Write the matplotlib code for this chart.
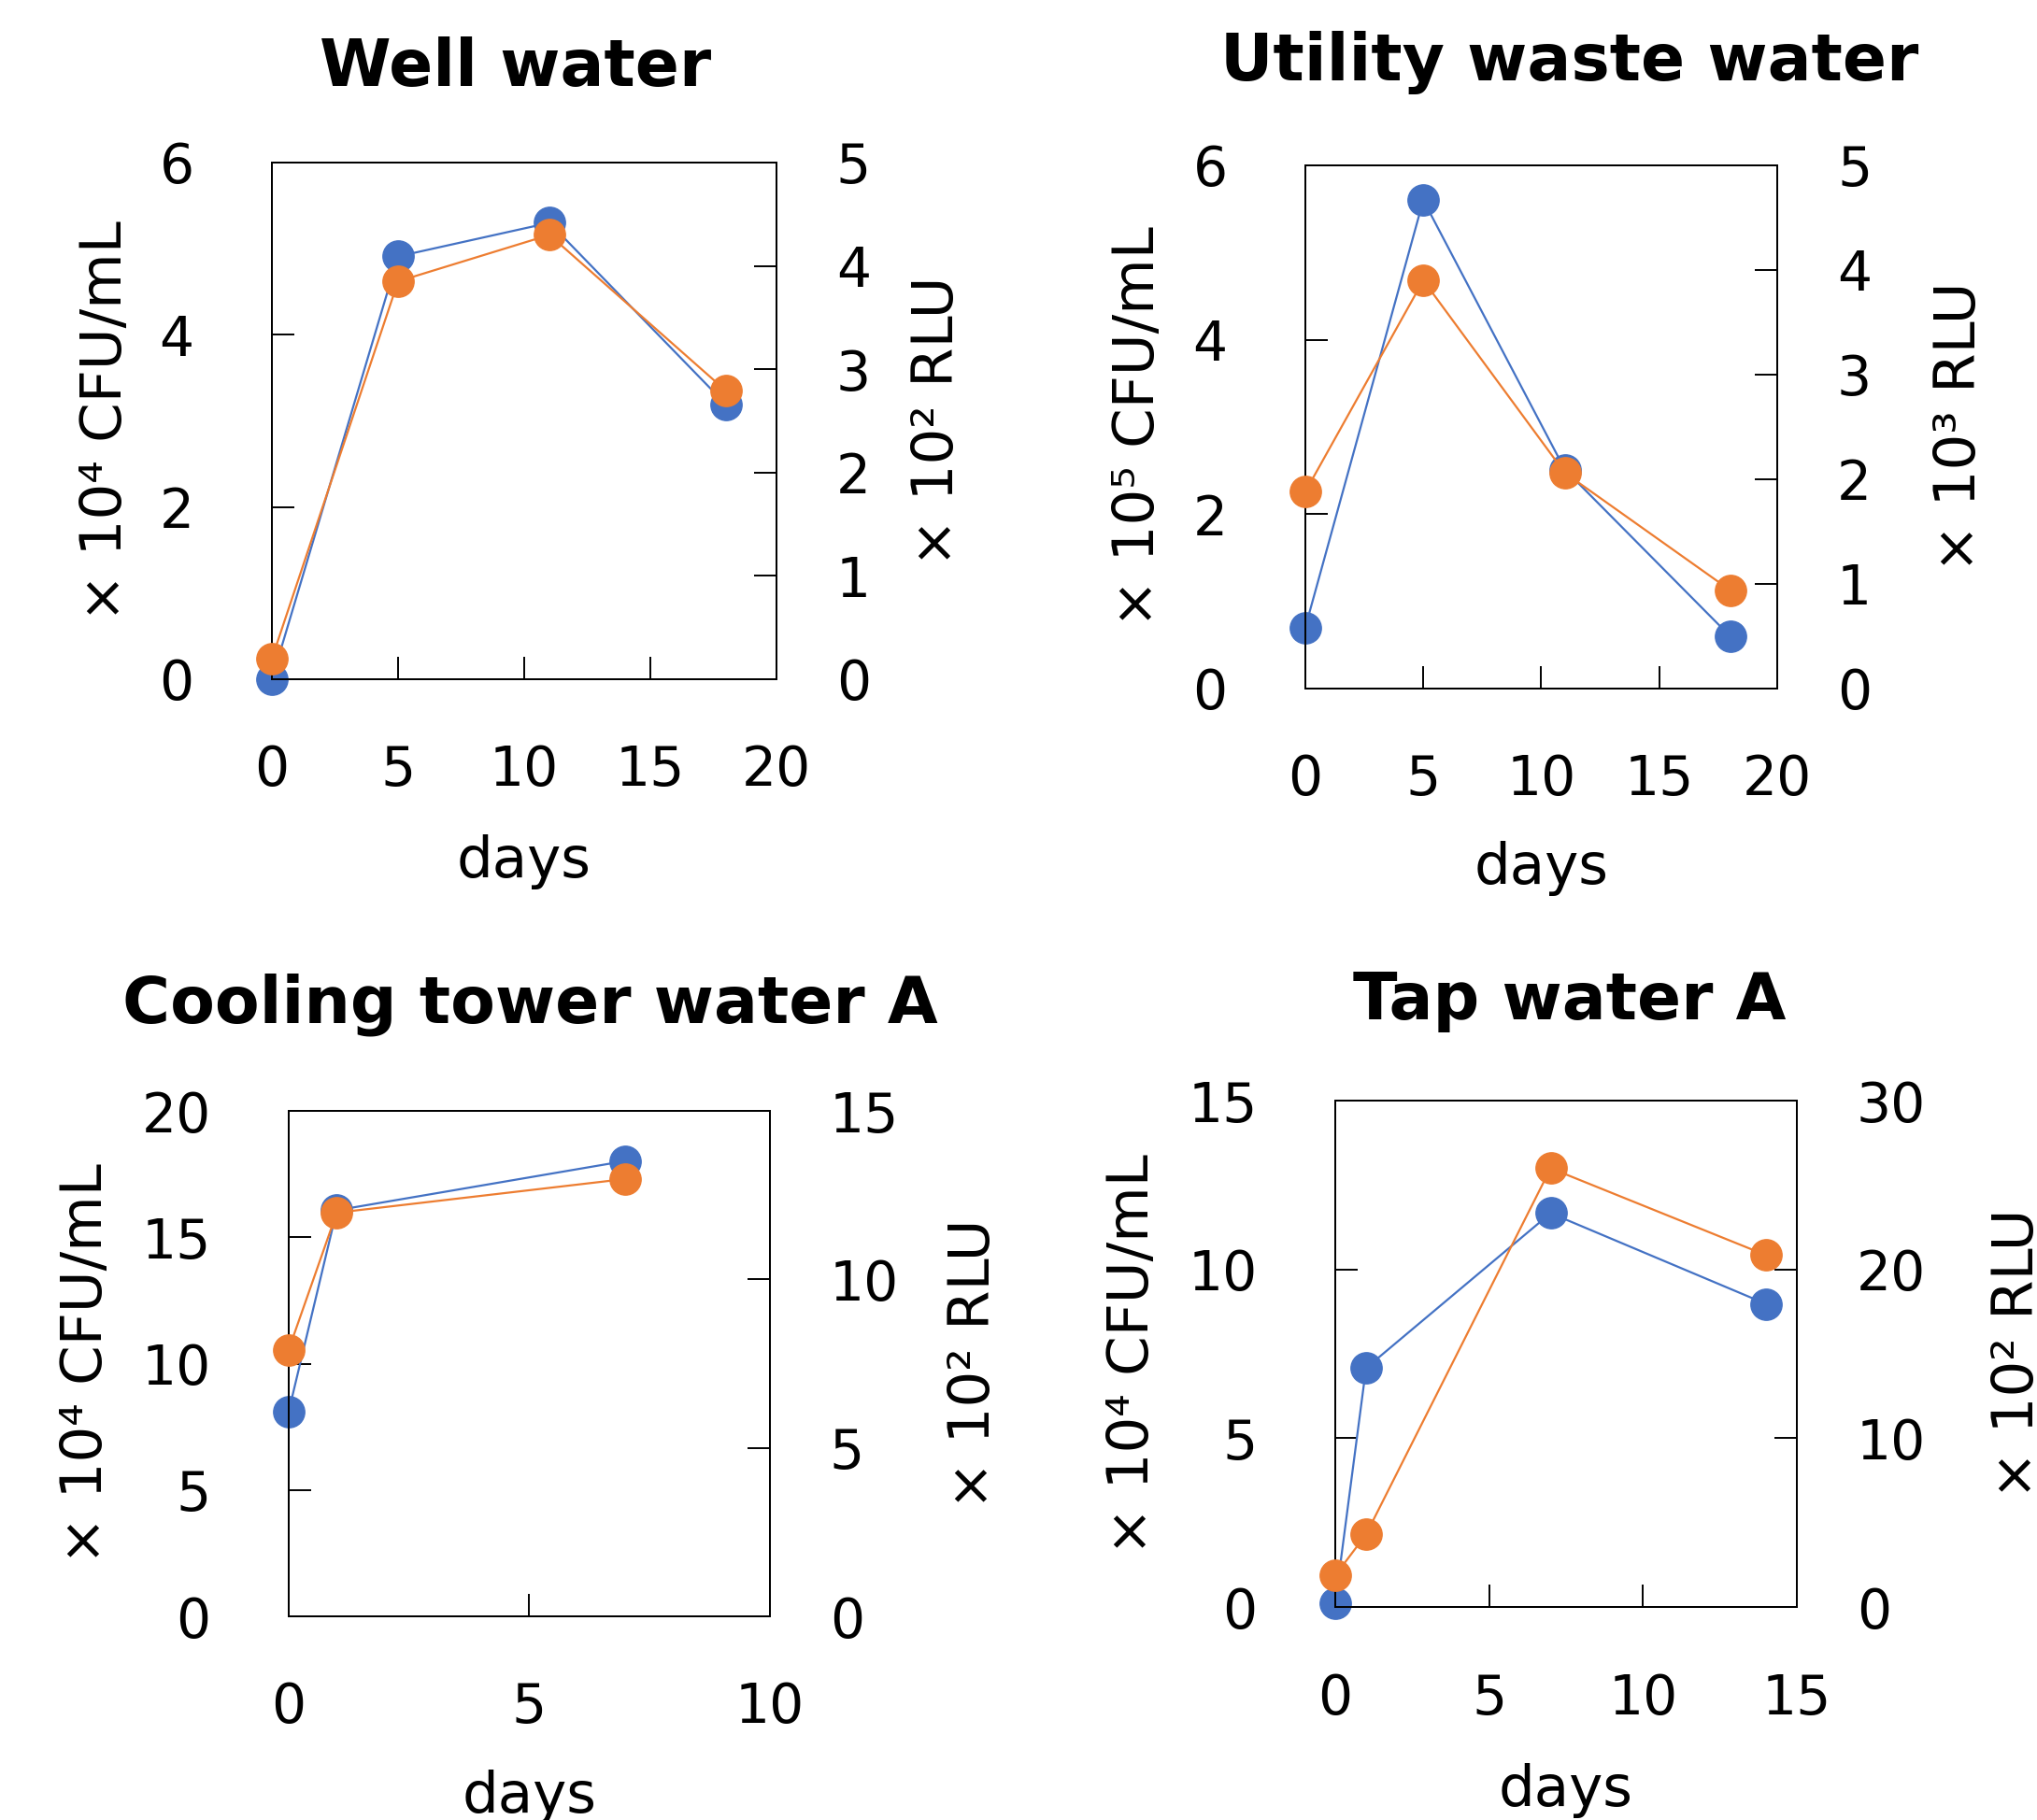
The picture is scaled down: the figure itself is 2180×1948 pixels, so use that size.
import numpy as np
import matplotlib
matplotlib.use('Agg')
import matplotlib.pyplot as plt

plt.rcParams['font.family'] = ['DejaVu Sans']

# 各パネルのデータ
titles = ['Well water', 'Utility waste water', 'Cooling tower water A', 'Tap water A']

well_days = [0, 5, 11, 18]
well_cfu = [0.0, 4.91, 5.30, 3.19]
well_rlu = [0.20, 3.85, 4.30, 2.79]

util_days = [0, 5, 11, 18]
util_cfu = [0.70, 5.60, 2.51, 0.60]
util_rlu = [1.88, 3.90, 2.06, 0.94]

cool_days = [0, 1, 7]
cool_cfu = [8.1, 16.07, 18.02]
cool_rlu = [7.91, 11.98, 12.98]

tap_days = [0, 1, 7, 14]
tap_cfu = [0.12, 7.08, 11.67, 8.98]
tap_rlu = [1.88, 4.3, 26.0, 20.85]

cfu_labels = ['× 10⁴ CFU/mL', '× 10⁵ CFU/mL', '× 10⁴ CFU/mL', '× 10⁴ CFU/mL']
rlu_labels = ['× 10² RLU', '× 10³ RLU', '× 10² RLU', '× 10² RLU']

x_lims = [20, 20, 10, 15]
x_steps = [5, 5, 5, 5]
cfu_lims = [6, 6, 20, 15]
cfu_steps = [2, 2, 5, 5]
rlu_lims = [5, 5, 15, 30]
rlu_steps = [1, 1, 5, 10]

days_all = [well_days, util_days, cool_days, tap_days]
cfu_all = [well_cfu, util_cfu, cool_cfu, tap_cfu]
rlu_all = [well_rlu, util_rlu, cool_rlu, tap_rlu]

# レイアウト（figure座標）
positions = [
    [0.1335, 0.6268, 0.2477, 0.2839],
    [0.6408, 0.6217, 0.2317, 0.2875],
    [0.1417, 0.1119, 0.2362, 0.2777],
    [0.6555, 0.1170, 0.2266, 0.2782],
]
left_lab_x = [-0.328, -0.354, -0.421, -0.439]
right_lab_x = [1.32, 1.386, 1.425, 1.478]
xlab_y = [-0.353, -0.343, -0.357, -0.362]
title_dx = [-0.018, 0.06, 0.002, 0.008]
title_dy = [0.184, 0.196, 0.211, 0.197]

BLUE = '#4472C4'
ORANGE = '#ED7D31'
FS = 42
LFS = 44

fig = plt.figure(figsize=(21.8, 19.48), dpi=100)

for i in range(4):
    ax = fig.add_axes(positions[i])
    ax2 = ax.twinx()

    ax.plot(days_all[i], cfu_all[i], color=BLUE, lw=1.6, marker='o', ms=24,
            clip_on=False, zorder=3)
    ax2.plot(days_all[i], rlu_all[i], color=ORANGE, lw=1.6, marker='o', ms=24,
             clip_on=False, zorder=3)

    ax.set_xlim(0, x_lims[i])
    ax.set_ylim(0, cfu_lims[i])
    ax2.set_ylim(0, rlu_lims[i])
    ax.set_xticks(np.arange(0, x_lims[i] + 0.1, x_steps[i]))
    ax.set_yticks(np.arange(0, cfu_lims[i] + 0.1, cfu_steps[i]))
    ax2.set_yticks(np.arange(0, rlu_lims[i] + 0.1, rlu_steps[i]))

    ax.tick_params(axis='x', direction='in', length=17, width=1.4, pad=50, labelsize=FS)
    ax.tick_params(axis='y', direction='in', length=17, width=1.4, pad=60, labelsize=FS)
    ax2.tick_params(axis='y', direction='in', length=17, width=1.4, pad=46, labelsize=FS)

    for sp in list(ax.spines.values()) + list(ax2.spines.values()):
        sp.set_linewidth(1.4)

    ax.set_xlabel('days', fontsize=LFS)
    ax.xaxis.set_label_coords(0.5, xlab_y[i])
    ax.xaxis.label.set_va('center')

    ax.set_ylabel(cfu_labels[i], fontsize=LFS)
    ax.yaxis.set_label_coords(left_lab_x[i], 0.5)
    ax.yaxis.label.set_va('center')

    ax2.set_ylabel(rlu_labels[i], fontsize=LFS)
    ax2.yaxis.set_label_coords(right_lab_x[i], 0.5)
    ax2.yaxis.label.set_va('center')

    ax.text(0.5 + title_dx[i], 1 + title_dy[i], titles[i], transform=ax.transAxes,
            ha='center', va='center', fontsize=50, fontweight='bold')

plt.savefig('out.png', dpi=100)
